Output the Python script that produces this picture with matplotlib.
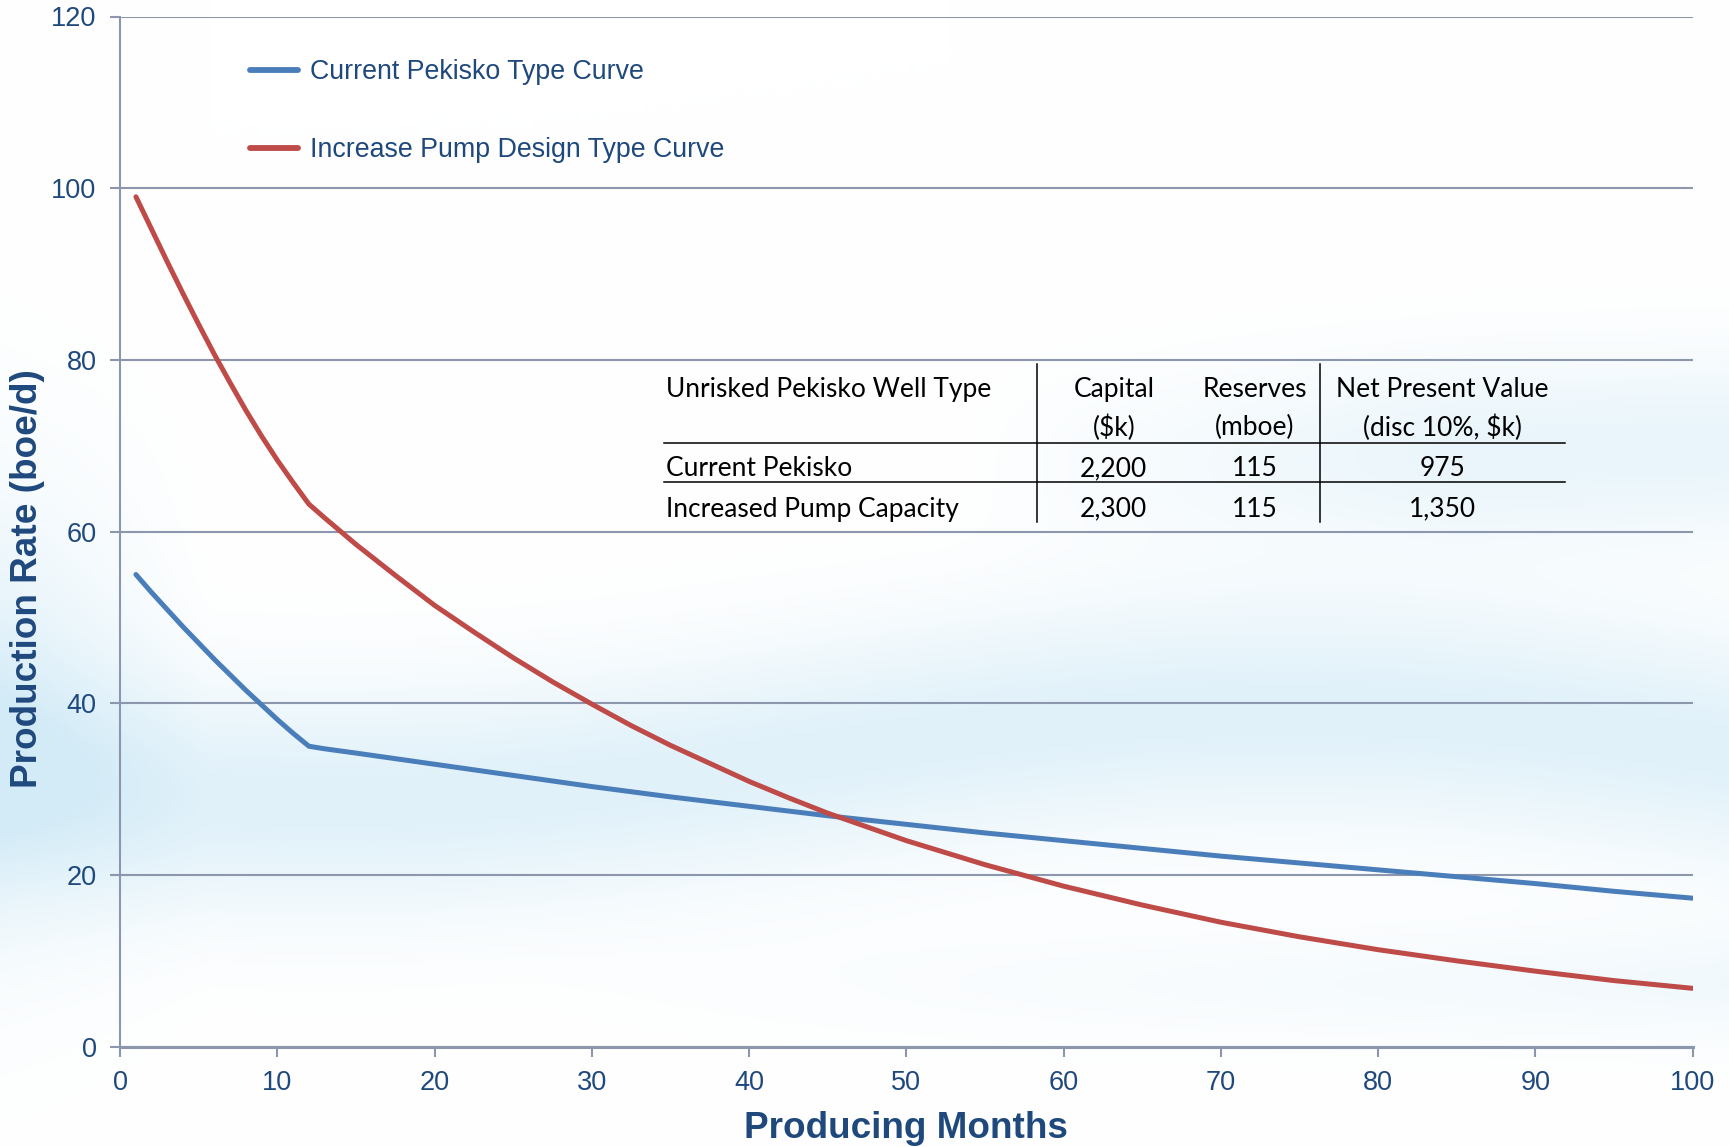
import numpy as np
import matplotlib
matplotlib.use("Agg")
import matplotlib.pyplot as plt
from matplotlib.lines import Line2D

# ---------------- data ----------------
months_current = [1, 2, 3, 4, 5, 6, 7, 8, 9, 10, 11, 12, 13, 15, 20, 25, 30, 35, 40,
                  45, 50, 55, 60, 65, 70, 75, 80, 85, 90, 95, 100]
rate_current = [55.0, 52.9, 50.9, 48.9, 47.0, 45.1, 43.3, 41.5, 39.8, 38.1, 36.5, 35.0,
                34.7, 34.2, 32.9, 31.6, 30.3, 29.1, 28.0, 26.9, 25.9, 24.9, 24.0,
                23.1, 22.2, 21.4, 20.6, 19.8, 19.0, 18.1, 17.3]

months_pump = [1, 2, 3, 4, 5, 6, 7, 8, 9, 10, 11, 12, 13, 15, 17.5, 20, 22.5, 25, 27.5,
               30, 32.5, 35, 37.5, 40, 42.5, 45, 47.5, 50, 55, 60, 65, 70, 75, 80,
               85, 90, 95, 100]
rate_pump = [99.0, 95.2, 91.4, 87.7, 84.1, 80.6, 77.3, 74.1, 71.1, 68.3, 65.7, 63.2,
             61.6, 58.5, 54.9, 51.4, 48.3, 45.3, 42.5, 39.9, 37.4, 35.1, 33.0, 30.9,
             29.0, 27.2, 25.6, 24.0, 21.2, 18.7, 16.5, 14.5, 12.8, 11.3, 10.0, 8.8,
             7.7, 6.8]

series_labels = ["Current Pekisko Type Curve", "Increase Pump Design Type Curve"]

x_ticks = [0, 10, 20, 30, 40, 50, 60, 70, 80, 90, 100]
y_ticks = [0, 20, 40, 60, 80, 100, 120]

table_header_1 = ["Unrisked Pekisko Well Type", "Capital", "Reserves", "Net Present Value"]
table_header_2 = ["", "($k)", "(mboe)", "(disc 10%, $k)"]
table_rows = [["Current Pekisko", "2,200", "115", "975"],
              ["Increased Pump Capacity", "2,300", "115", "1,350"]]

# ---------------- style ----------------
W, H = 1729, 1147
TXT = "#1F497D"
GRID = "#8C96AC"
BLUE = "#4A7EBB"
RED = "#BE4B48"
SANS = ["Liberation Sans", "DejaVu Sans"]

fig = plt.figure(figsize=(W / 100, H / 100), dpi=100)

# background wash
bg = fig.add_axes([0, 0, 1, 1], zorder=-10)
xx, yy = np.meshgrid(np.linspace(0, 1, 400), np.linspace(0, 1, 270))
t = 0.7 * np.exp(-((yy - (0.66 + 0.04 * np.sin(2 * np.pi * xx * 0.9 + 0.5))) / 0.10) ** 2)
t += 0.5 * np.exp(-((yy - (0.42 - 0.03 * xx)) / 0.08) ** 2) * np.clip((xx - 0.55) / 0.3, 0, 1)
t += 0.6 * np.exp(-((yy - 0.62) / 0.2) ** 2) * np.clip((0.12 - xx) / 0.12, 0, 1)
t += 0.3 * np.exp(-((yy - 0.86) / 0.05) ** 2) * np.clip((xx - 0.3) / 0.7, 0, 1)
t = np.clip(t, 0, 1) * 0.85
c0 = np.array([1.0, 1.0, 1.0])
c1 = np.array([0.80, 0.91, 0.965])
img = c0[None, None, :] * (1 - t[..., None]) + c1[None, None, :] * t[..., None]
bg.imshow(img, extent=[0, 1, 0, 1], origin="upper", aspect="auto", interpolation="bilinear")
bg.set_axis_off()

left, right = 120.2 / W, 1692.6 / W
bottom, top = 1 - 1046.7 / H, 1 - 16.5 / H
ax = fig.add_axes([left, bottom, right - left, top - bottom])
ax.patch.set_alpha(0)

ax.plot(months_current, rate_current, color=BLUE, lw=3.6, solid_capstyle="round",
        solid_joinstyle="round", label=series_labels[0], zorder=3)
ax.plot(months_pump, rate_pump, color=RED, lw=3.6, solid_capstyle="round",
        solid_joinstyle="round", label=series_labels[1], zorder=3)

ax.set_xlim(0, 100)
ax.set_ylim(0, 120)
ax.set_xticks(x_ticks)
ax.set_yticks(y_ticks)
ax.grid(axis="y", color=GRID, lw=1.5, zorder=1)
for s in ["top", "right"]:
    ax.spines[s].set_visible(False)
ax.spines["left"].set_color(GRID)
ax.spines["left"].set_linewidth(1.5)
ax.spines["bottom"].set_color(GRID)
ax.spines["bottom"].set_linewidth(2.2)
ax.tick_params(axis="both", colors=GRID, length=7, width=1.5, direction="out")
ax.tick_params(axis="y", pad=10, labelcolor=TXT, labelsize=19.5)
ax.tick_params(axis="x", pad=10, labelcolor=TXT, labelsize=19.5)
for lab in ax.get_xticklabels() + ax.get_yticklabels():
    lab.set_family(SANS)

leg = ax.legend(loc="upper left", bbox_to_anchor=(0.0826, 0.9585), frameon=False,
                handlelength=1.8, handletextpad=0.45, labelspacing=1.94, borderpad=0,
                borderaxespad=0, prop={"family": SANS, "size": 19.3})
for txt in leg.get_texts():
    txt.set_color(TXT)
for ln in leg.get_lines():
    ln.set_linewidth(4.2)

fig.text(28 / W, 1 - 579 / H, "Production Rate (boe/d)", rotation=90, ha="center",
         va="center", color=TXT, fontsize=26.6, fontweight="bold", family=SANS)
fig.text(906 / W, 1 - 1128 / H, "Producing Months", ha="center", va="center",
         color=TXT, fontsize=26.6, fontweight="bold", family=SANS)

# ---------------- table ----------------
TF = ["Lato", "DejaVu Sans"]
tfs = 19.0
col_x = [666, 1113.8, 1255, 1442.4]
col_ha = ["left", "center", "center", "center"]
row_y = [389, 427.8, 468.7, 509.2]
rows = [table_header_1, table_header_2] + table_rows
for r, yv in zip(rows, row_y):
    for c, (xv, ha) in enumerate(zip(col_x, col_ha)):
        if r[c]:
            fig.text(xv / W, 1 - yv / H, r[c], ha=ha, va="center", fontsize=tfs,
                     family=TF, color="black")
for yv in [443, 482]:
    fig.add_artist(Line2D([664 / W, 1565 / W], [1 - yv / H, 1 - yv / H],
                          color="black", lw=1.1))
for xv in [1036.5, 1320]:
    fig.add_artist(Line2D([xv / W, xv / W], [1 - 364 / H, 1 - 522 / H],
                          color="black", lw=1.1))

fig.savefig("out.png", dpi=100)
